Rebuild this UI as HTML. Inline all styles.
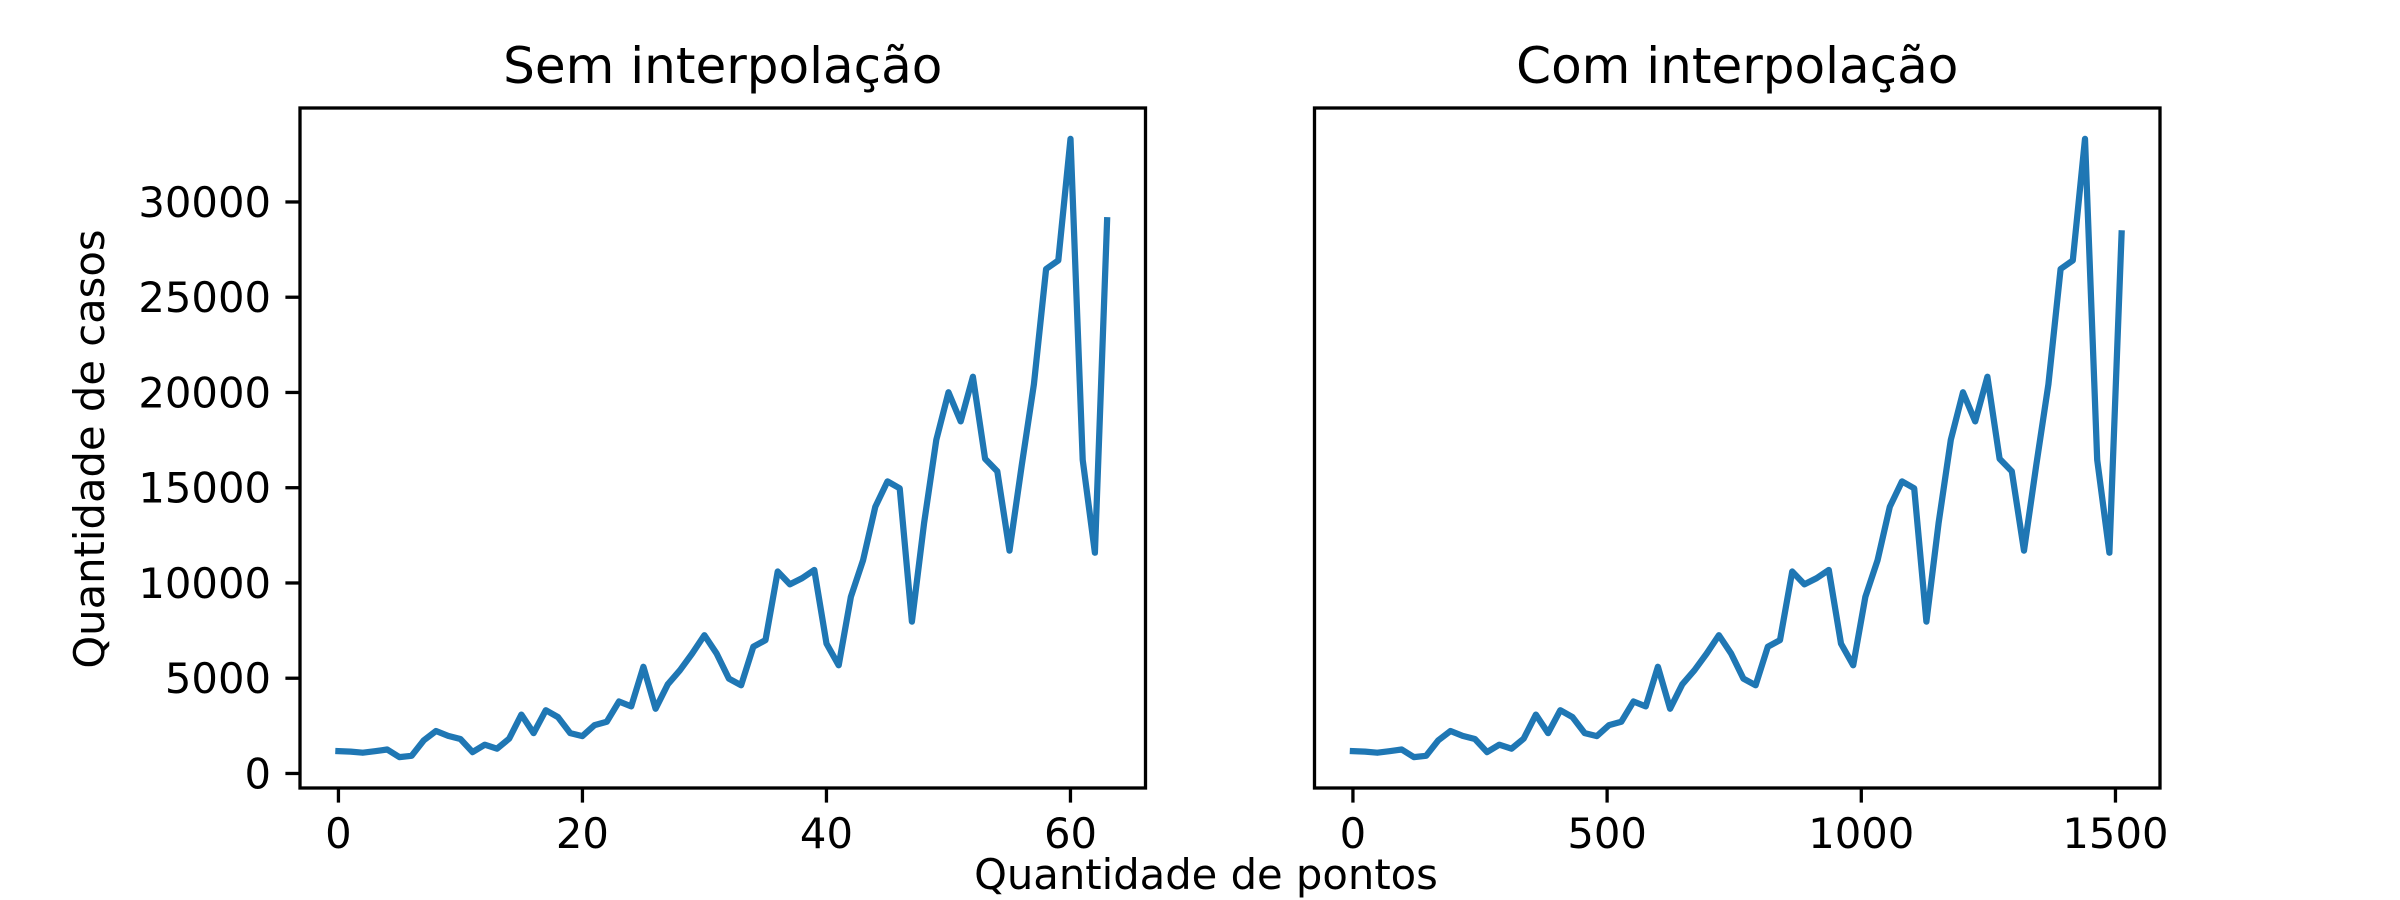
<!DOCTYPE html>
<html><head><meta charset="utf-8"><style>
html,body{margin:0;padding:0;background:#fff;}
svg{display:block;font-family:"DejaVu Sans","Liberation Sans",sans-serif;}
</style></head><body>
<svg id="fig" width="2400" height="900" viewBox="0 0 2400 900" xmlns="http://www.w3.org/2000/svg">
<rect width="2400" height="900" fill="#fff"/>
<g id="leftPanel"></g>
<g id="rightPanel"></g>
<text x="0" y="0" font-size="41.7" text-anchor="middle" transform="translate(104,449) rotate(-90)">Quantidade de casos</text>
<text x="1206" y="889" font-size="41.7" text-anchor="middle">Quantidade de pontos</text>
</svg>
<script>
const casesLeft = [1175,1150,1090,1170,1260,860,930,1740,2230,1970,1810,1120,1510,1300,1830,3090,2120,3320,2960,2120,1960,2540,2720,3780,3520,5600,3400,4680,5420,6300,7260,6300,4980,4630,6650,7000,10600,9930,10250,10680,6820,5680,9280,11200,14000,15330,14970,7970,13150,17510,20010,18480,20820,16520,15860,11700,16160,20430,26480,26930,33310,16460,11590,29040];
const casesRight = casesLeft.slice(0,63).concat([28350]);
const stepRight = 24;
const yTicks = [0,5000,10000,15000,20000,25000,30000];
const xTicksLeft = [0,20,40,60];
const xTicksRight = [0,500,1000,1500];
const NS="http://www.w3.org/2000/svg";
const axTop=108, axBottom=788;
const yMin=Math.min(...casesLeft,...casesRight), yMax=Math.max(...casesLeft,...casesRight);
const yr=yMax-yMin, y0=yMin-0.05*yr, y1=yMax+0.05*yr;
const Y=v=>axBottom-(v-y0)/(y1-y0)*(axBottom-axTop);
function mk(tag,attrs,parent){const e=document.createElementNS(NS,tag);for(const k in attrs)e.setAttribute(k,attrs[k]);parent.appendChild(e);return e;}
function panel(g,left,right,xs,ys,xticks,title,showY){
  const xmn=Math.min(...xs),xmx=Math.max(...xs),xr=xmx-xmn,x0=xmn-0.05*xr,x1=xmx+0.05*xr;
  const X=v=>left+(v-x0)/(x1-x0)*(right-left);
  const t=mk('text',{x:(left+right)/2,y:83,'font-size':50,'text-anchor':'middle'},g);
  
  
  t.textContent=title;
  const d=xs.map((x,i)=>(i?'L':'M')+X(x).toFixed(1)+','+Y(ys[i]).toFixed(1)).join(' ');
  const p=mk('path',{d:d,fill:'none',stroke:'#1f77b4','stroke-width':6.25,'stroke-linejoin':'round','stroke-linecap':'square'},g);
  
  
  const fr=mk('rect',{x:left,y:axTop,width:right-left,height:axBottom-axTop,fill:'none',stroke:'#000','stroke-width':3.3},g);
  
  
  xticks.forEach(v=>{
    const tk=mk('line',{x1:X(v),x2:X(v),y1:axBottom,y2:axBottom+14.6,stroke:'#000','stroke-width':3.3},g);
    
    
    const tl=mk('text',{x:X(v),y:axBottom+29+31,'font-size':41.7,'text-anchor':'middle'},g);
    
    
    tl.textContent=v;
  });
  if(showY) yTicks.forEach(v=>{
    const tk=mk('line',{x1:left-14.6,x2:left,y1:Y(v),y2:Y(v),stroke:'#000','stroke-width':3.3},g);
    
    
    const tl=mk('text',{x:left-29,y:Y(v)+15,'font-size':41.7,'text-anchor':'end'},g);
    
    
    tl.textContent=v;
  });
}
panel(document.getElementById('leftPanel'),300,1145.5,casesLeft.map((_,i)=>i),casesLeft,xTicksLeft,'Sem interpolação',true);
panel(document.getElementById('rightPanel'),1314.5,2160,casesRight.map((_,i)=>i*stepRight),casesRight,xTicksRight,'Com interpolação',false);
</script>
</body></html>
